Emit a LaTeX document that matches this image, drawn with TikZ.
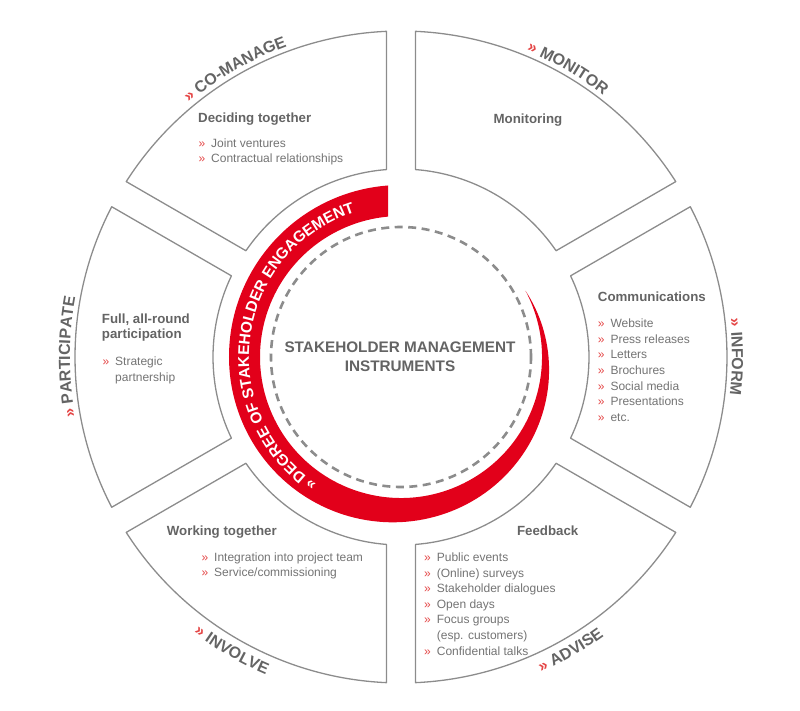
\documentclass[tikz,border=0pt]{standalone}
\usepackage{fontspec}
\setmainfont{Liberation Sans}
\usetikzlibrary{decorations.text}
\definecolor{engred}{RGB}{226,0,26}
\definecolor{bulred}{RGB}{228,70,70}
\definecolor{titlegray}{RGB}{100,100,100}
\definecolor{txtgray}{RGB}{115,115,115}
\definecolor{linegray}{RGB}{140,140,140}
\definecolor{lblgray}{RGB}{100,100,100}
\newcommand\bulmark{\makebox[0pt][r]{\color{bulred}»\hspace{6pt}}}
\newcommand\lblfont{\fontsize{16}{16}\selectfont\bfseries}
\newcommand\bandfont{\fontsize{15.5}{16}\selectfont\bfseries}
\begin{document}
\begin{tikzpicture}[x=1pt,y=1pt,
  sector/.style={draw=linegray, line width=1.3pt, line join=round},
  ttl/.style={font=\fontsize{13.3}{15}\selectfont\bfseries, text=titlegray, inner sep=0pt},
  itm/.style={font=\fontsize{12}{14}\selectfont, text=txtgray, inner sep=0pt, anchor=base west},
  ctr/.style={font=\fontsize{15.3}{18}\selectfont\bfseries, text=titlegray, inner sep=0pt, anchor=base},
  ring/.style={draw=linegray, line width=2.6pt, dash pattern=on 8pt off 5.5pt}]
\useasboundingbox (-401,-354) rectangle (399,357);

% sectors
\foreach \p/\q in {90/30, 30/-30, -30/-90, -90/-150, -150/-210, 150/90}{
  \draw[sector] ({\p-2.55}:326) arc[start angle={\p-2.55}, end angle={\q+2.55}, radius=326]
    -- ({\q+4.42}:188) arc[start angle={\q+4.42}, end angle={\p-4.42}, radius=188] -- cycle;
}

% red engagement band
\fill[engred] (94.33:172) arc[start angle=94.33, end angle=180, radius=172]
  \foreach \t in {182,184,...,386}{ -- ({\t}:{141+31*cos((\t-180)*0.432692)}) }
  -- (388:141) arc[start angle=388, end angle=95.29, radius=141] -- cycle;
\path[decorate, decoration={text along path, text align=center,
  text={|\bandfont\color{white}|» DEGREE OF STAKEHOLDER ENGAGEMENT}}]
  (262:152) arc[start angle=262, end angle=82, radius=152];

% dashed circle
\draw[ring] (0,0) circle[radius=130];

% curved outer labels
\path[decorate, decoration={text along path, text align=center,
  text={|\lblfont\color{bulred}|» |\lblfont\color{lblgray}|CO-MANAGE}}]
  (150:331) arc[start angle=150, end angle=90, radius=331];
\path[decorate, decoration={text along path, text align=center,
  text={|\lblfont\color{bulred}|» |\lblfont\color{lblgray}|MONITOR}}]
  (90:331) arc[start angle=90, end angle=30, radius=331];
\path[decorate, decoration={text along path, text align=center,
  text={|\lblfont\color{bulred}|» |\lblfont\color{lblgray}|INFORM}}]
  (30:331) arc[start angle=30, end angle=-30, radius=331];
\path[decorate, decoration={text along path, text align=center,
  text={|\lblfont\color{bulred}|» |\lblfont\color{lblgray}|PARTICIPATE}}]
  (210:331) arc[start angle=210, end angle=150, radius=331];
\path[decorate, decoration={text along path, text align=center,
  text={|\lblfont\color{bulred}|» |\lblfont\color{lblgray}|ADVISE}}]
  (-90:345) arc[start angle=-90, end angle=-30, radius=345];
\path[decorate, decoration={text along path, text align=center,
  text={|\lblfont\color{bulred}|» |\lblfont\color{lblgray}|INVOLVE}}]
  (-150:345) arc[start angle=-150, end angle=-90, radius=345];

% texts in image coordinates
\begin{scope}[shift={(-401pt,357pt)}, y=-1pt]
  \node[ctr] (c1) at (400,352.7) {STAKEHOLDER MANAGEMENT};
  \node[ctr] (c2) at (400,371.7) {INSTRUMENTS};

  % CO-MANAGE
  \node[ttl, anchor=base west] (cmT) at (198,123) {Deciding together};
  \node[itm] (cm1) at (211,147.5) {\bulmark Joint ventures};
  \node[itm] (cm2) at (211,162.7) {\bulmark Contractual relationships};

  % MONITOR
  \node[ttl, anchor=base] (moT) at (528,124) {Monitoring};

  % INFORM
  \node[ttl, anchor=base west] (inT) at (597.7,301.7) {Communications};
  \node[itm] (in1) at (610.3,327.7) {\bulmark Website};
  \node[itm] (in2) at (610.3,343.3) {\bulmark Press releases};
  \node[itm] (in3) at (610.3,359) {\bulmark Letters};
  \node[itm] (in4) at (610.3,374.7) {\bulmark Brochures};
  \node[itm] (in5) at (610.3,390.3) {\bulmark Social media};
  \node[itm] (in6) at (610.3,405.7) {\bulmark Presentations};
  \node[itm] (in7) at (610.3,421.3) {\bulmark etc.};

  % ADVISE
  \node[ttl, anchor=base] (adT) at (547.7,536) {Feedback};
  \node[itm] (ad1) at (436.7,562) {\bulmark Public events};
  \node[itm] (ad2) at (436.7,577.3) {\bulmark (Online) surveys};
  \node[itm] (ad3) at (436.7,592.7) {\bulmark Stakeholder dialogues};
  \node[itm] (ad4) at (436.7,608.3) {\bulmark Open days};
  \node[itm] (ad5) at (436.7,623.5) {\bulmark Focus groups};
  \node[itm] (ad6) at (436.7,639) {(esp. customers)};
  \node[itm] (ad7) at (436.7,655) {\bulmark Confidential talks};

  % INVOLVE
  \node[ttl, anchor=base west] (ivT) at (166.7,536) {Working together};
  \node[itm] (iv1) at (214,562) {\bulmark Integration into project team};
  \node[itm] (iv2) at (214,577) {\bulmark Service/commissioning};

  % PARTICIPATE
  \node[ttl, anchor=base west] (paT1) at (101.7,323.3) {Full, all-round};
  \node[ttl, anchor=base west] (paT2) at (101.7,338.5) {participation};
  \node[itm] (pa1) at (115,366) {\bulmark Strategic};
  \node[itm] (pa2) at (115,381.7) {partnership};
\end{scope}
\end{tikzpicture}
\end{document}
